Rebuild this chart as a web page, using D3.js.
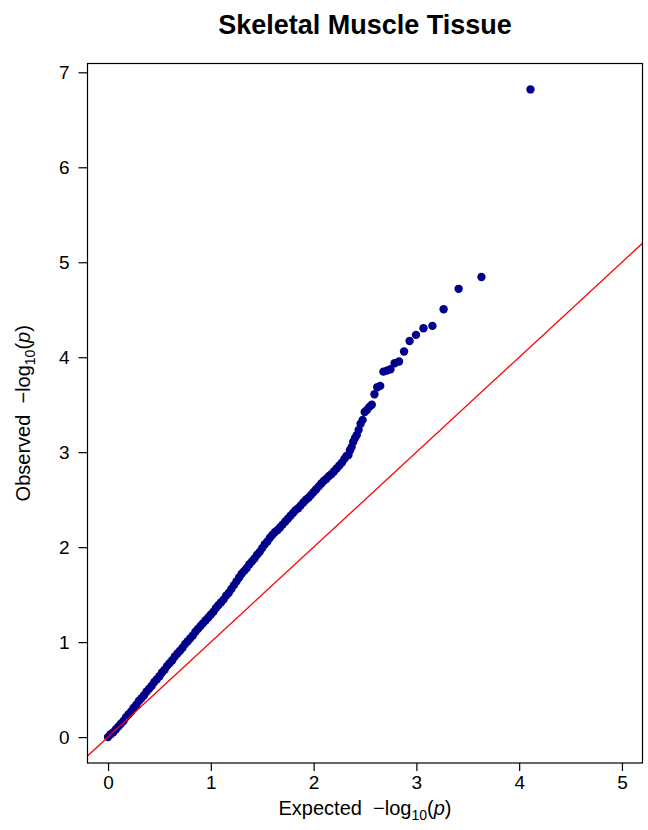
<!DOCTYPE html>
<html>
<head>
<meta charset="utf-8">
<script src="https://cdn.jsdelivr.net/npm/d3@7"></script>
<style>
  body { margin: 0; background: #fff; }
  text { font-family: "Liberation Sans", Arial, Helvetica, sans-serif; white-space: pre; }
</style>
</head>
<body>
<script>
const width = 648;
const height = 830;

// chart text
const titleText = "Skeletal Muscle Tissue";
const xLabel = "Expected";
const yLabel = "Observed";

// tick values
const xTicks = [0, 1, 2, 3, 4, 5];
const yTicks = [0, 1, 2, 3, 4, 5, 6, 7];

// axis limits (as in the plot)
const xLimits = [0, 5];
const yLimits = [0, 6.82];

// expected -log10(p), ascending
const expected = [
  0.000, 0.025, 0.050, 0.075, 0.100, 0.125, 0.150, 0.175, 0.200, 0.225,
  0.250, 0.275, 0.300, 0.325, 0.350, 0.375, 0.400, 0.425, 0.450, 0.475,
  0.500, 0.525, 0.550, 0.575, 0.600, 0.625, 0.650, 0.675, 0.700, 0.725,
  0.750, 0.775, 0.800, 0.825, 0.850, 0.875, 0.900, 0.925, 0.950, 0.975,
  1.000, 1.025, 1.050, 1.075, 1.100, 1.125, 1.150, 1.175, 1.200, 1.225,
  1.250, 1.275, 1.300, 1.325, 1.350, 1.375, 1.400, 1.425, 1.450, 1.475,
  1.500, 1.525, 1.550, 1.575, 1.600, 1.625, 1.650, 1.675, 1.700, 1.725,
  1.750, 1.775, 1.800, 1.825, 1.850, 1.875, 1.900, 1.925, 1.950, 1.975,
  2.000, 2.025, 2.050, 2.075, 2.100, 2.125, 2.150, 2.175, 2.200, 2.225,
  2.250, 2.275, 2.300, 2.320,
  2.339, 2.354, 2.370, 2.386, 2.403, 2.420, 2.438, 2.457, 2.477, 2.497,
  2.519, 2.542, 2.566, 2.592, 2.619, 2.648, 2.679, 2.712, 2.748, 2.788,
  2.831, 2.880, 2.934, 2.996, 3.069, 3.156, 3.265, 3.411, 3.633, 4.110
];

// observed -log10(p), same order
const observed = [
  0.00, 0.03, 0.05, 0.08, 0.11, 0.14, 0.17, 0.21, 0.24, 0.27,
  0.31, 0.34, 0.38, 0.41, 0.44, 0.48, 0.51, 0.54, 0.58, 0.61,
  0.64, 0.68, 0.71, 0.75, 0.78, 0.81, 0.85, 0.88, 0.91, 0.94,
  0.98, 1.01, 1.04, 1.07, 1.11, 1.14, 1.17, 1.20, 1.23, 1.26,
  1.29, 1.32, 1.36, 1.39, 1.42, 1.45, 1.49, 1.52, 1.56, 1.60,
  1.64, 1.68, 1.72, 1.75, 1.78, 1.82, 1.85, 1.88, 1.92, 1.95,
  1.99, 2.03, 2.06, 2.10, 2.13, 2.16, 2.18, 2.21, 2.24, 2.27,
  2.30, 2.33, 2.36, 2.39, 2.41, 2.44, 2.47, 2.50, 2.52, 2.55,
  2.58, 2.61, 2.64, 2.67, 2.70, 2.72, 2.75, 2.77, 2.80, 2.83,
  2.86, 2.89, 2.93, 2.96,
  2.97, 3.02, 3.055, 3.11, 3.15, 3.18, 3.235, 3.30, 3.34, 3.424,
  3.445, 3.477, 3.50, 3.61, 3.684, 3.698, 3.848, 3.859, 3.874, 3.937,
  3.955, 4.06, 4.17, 4.235, 4.305, 4.33, 4.505, 4.72, 4.845, 6.82
];

const points = expected.map((e, i) => ({ x: e, y: observed[i] }));

const box = { left: 87.5, right: 642.5, top: 63.5, bottom: 763 };

// R style 4% padding around the limits
const xPad = (xLimits[1] - xLimits[0]) * 0.04;
const yPad = (yLimits[1] - yLimits[0]) * 0.04;

const x = d3.scaleLinear()
    .domain([xLimits[0] - xPad, xLimits[1] + xPad])
    .range([box.left, box.right]);
const y = d3.scaleLinear()
    .domain([yLimits[0] - yPad, yLimits[1] + yPad])
    .range([box.bottom, box.top]);

const svg = d3.select("body").append("svg")
    .attr("width", width)
    .attr("height", height);

svg.append("defs").append("clipPath")
    .attr("id", "plotclip")
  .append("rect")
    .attr("x", box.left)
    .attr("y", box.top)
    .attr("width", box.right - box.left)
    .attr("height", box.bottom - box.top);

// points
svg.append("g")
  .selectAll("circle")
  .data(points)
  .enter()
  .append("circle")
    .attr("cx", d => x(d.x))
    .attr("cy", d => y(d.y))
    .attr("r", 4.2)
    .attr("fill", "#00008B");

// y = x reference line
const xd = x.domain();
svg.append("line")
    .attr("clip-path", "url(#plotclip)")
    .attr("x1", x(xd[0])).attr("y1", y(xd[0]))
    .attr("x2", x(xd[1])).attr("y2", y(xd[1]))
    .attr("stroke", "#FF0000")
    .attr("stroke-width", 1.3);

// box
svg.append("rect")
    .attr("x", box.left)
    .attr("y", box.top)
    .attr("width", box.right - box.left)
    .attr("height", box.bottom - box.top)
    .attr("fill", "none")
    .attr("stroke", "#000")
    .attr("stroke-width", 1.2);

// axes
const xAxis = svg.append("g")
    .attr("transform", `translate(0,${box.bottom})`)
    .call(d3.axisBottom(x).tickValues(xTicks).tickSize(8).tickPadding(5).tickFormat(d3.format("d")));
const yAxis = svg.append("g")
    .attr("transform", `translate(${box.left},0)`)
    .call(d3.axisLeft(y).tickValues(yTicks).tickSize(9).tickPadding(9).tickFormat(d3.format("d")));

[xAxis, yAxis].forEach(g => {
  g.select(".domain").remove();
  g.selectAll(".tick line").attr("stroke", "#000").attr("stroke-width", 1.2);
  g.selectAll(".tick text")
    .attr("fill", "#000")
    .style("font-size", "19px")
    .style("font-family", "'Liberation Sans', Arial, sans-serif");
});

// title
svg.append("text")
    .attr("x", (box.left + box.right) / 2)
    .attr("y", 34)
    .attr("text-anchor", "middle")
    .style("font-size", "27px")
    .style("font-weight", "bold")
    .text(titleText);

// axis label with -log10(p)
function logLabel(sel, word) {
  sel.append("tspan").text(word + "  \u2212log");
  sel.append("tspan").attr("dy", 5).style("font-size", "14px").text("10");
  sel.append("tspan").attr("dy", -5).text("(");
  sel.append("tspan").style("font-style", "italic").text("p");
  sel.append("tspan").text(")");
}

svg.append("text")
    .attr("x", (box.left + box.right) / 2)
    .attr("y", 815)
    .attr("text-anchor", "middle")
    .style("font-size", "20px")
    .call(logLabel, xLabel);

svg.append("text")
    .attr("transform", `translate(30,${(box.top + box.bottom) / 2}) rotate(-90)`)
    .attr("text-anchor", "middle")
    .style("font-size", "20px")
    .call(logLabel, yLabel);
</script>
</body>
</html>
